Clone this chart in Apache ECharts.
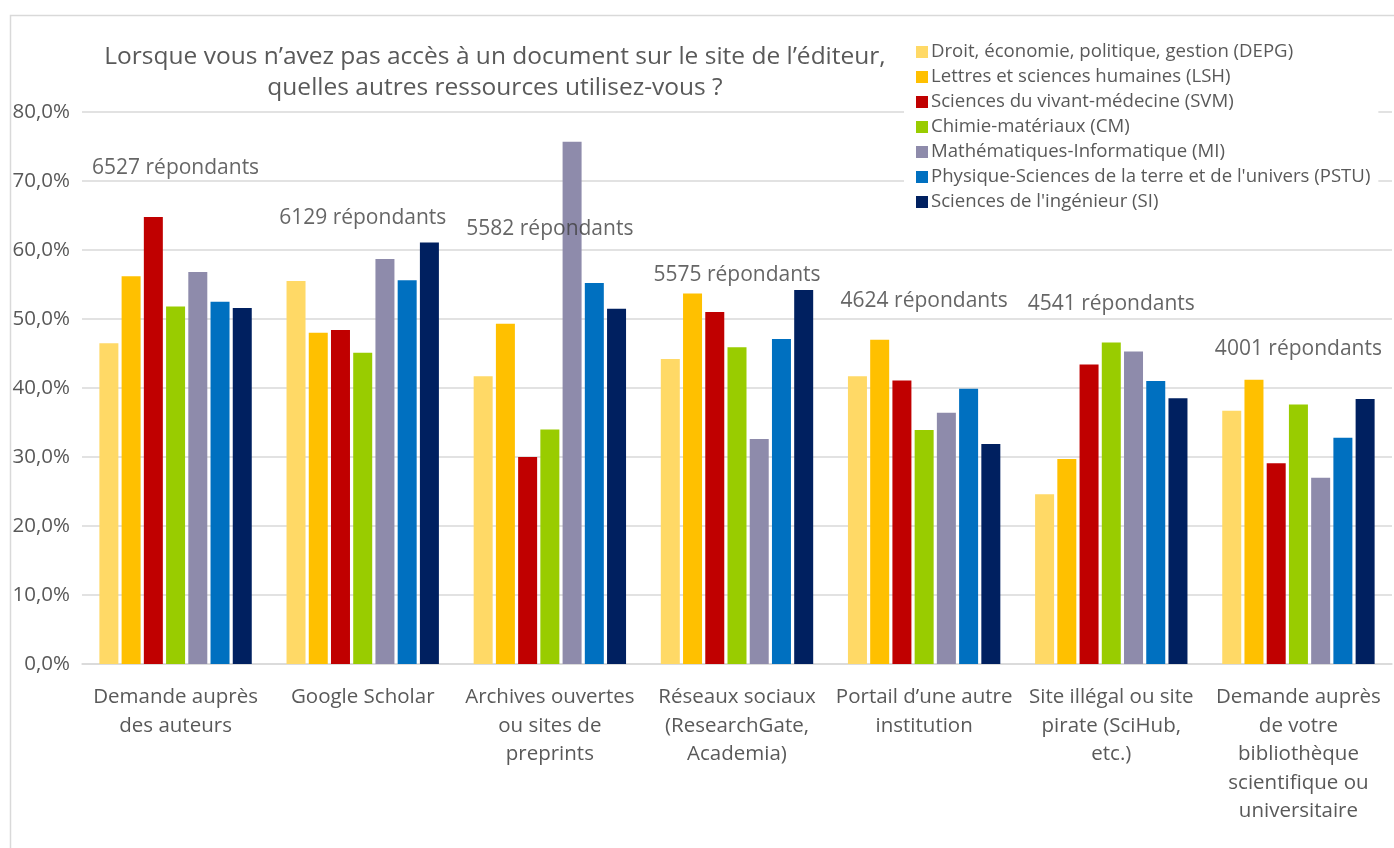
<!DOCTYPE html>
<html>
<head>
<meta charset="utf-8">
<script src="https://cdn.jsdelivr.net/npm/echarts@6/dist/echarts.min.js"></script>
<style>
html,body{margin:0;padding:0;background:#fff;}
#chart{width:1394px;height:848px;}
</style>
</head>
<body>
<div id="chart"></div>
<script>
const categories = [
  "Demande auprès\ndes auteurs",
  "Google Scholar",
  "Archives ouvertes\nou sites de\npreprints",
  "Réseaux sociaux\n(ResearchGate,\nAcademia)",
  "Portail d’une autre\ninstitution",
  "Site illégal ou site\npirate (SciHub,\netc.)",
  "Demande auprès\nde votre\nbibliothèque\nscientifique ou\nuniversitaire"
];
const seriesNames = [
  "Droit, économie, politique, gestion (DEPG)",
  "Lettres et sciences humaines (LSH)",
  "Sciences du vivant-médecine (SVM)",
  "Chimie-matériaux (CM)",
  "Mathématiques-Informatique (MI)",
  "Physique-Sciences de la terre et de l'univers (PSTU)",
  "Sciences de l'ingénieur (SI)"
];
const DEPG = [46.5, 55.5, 41.7, 44.2, 41.7, 24.6, 36.7];
const LSH  = [56.2, 48.0, 49.3, 53.7, 47.0, 29.7, 41.2];
const SVM  = [64.8, 48.4, 30.0, 51.0, 41.1, 43.4, 29.1];
const CM   = [51.8, 45.1, 34.0, 45.9, 33.9, 46.6, 37.6];
const MI   = [56.8, 58.7, 75.7, 32.6, 36.4, 45.3, 27.0];
const PSTU = [52.5, 55.6, 55.2, 47.1, 39.9, 41.0, 32.8];
const SI   = [51.6, 61.1, 51.5, 54.2, 31.9, 38.5, 38.4];
const respondents = [6527, 6129, 5582, 5575, 4624, 4541, 4001];
const respondentLabelLevel = [71.9, 64.6, 63.1, 56.4, 52.6, 52.2, 45.7];
const yTicks = { min: 0, max: 80, interval: 10 };

const colors = ["#FFD966", "#FFC000", "#C00000", "#99CC00", "#8E8BAB", "#0070C0", "#002060"];
const values = [DEPG, LSH, SVM, CM, MI, PSTU, SI];
const FONT = "Open Sans";

const chart = echarts.init(document.getElementById('chart'), null, {renderer: 'canvas'});

const barSeries = seriesNames.map((name, i) => ({
  name: name,
  type: 'bar',
  data: values[i],
  barWidth: 19,
  barGap: '17%',
  itemStyle: { color: colors[i] },
  silent: true
}));

const labelSeries = {
  name: 'respondants',
  type: 'scatter',
  symbolSize: 0,
  silent: true,
  z: 10,
  data: respondentLabelLevel.map((v, i) => [i, v]),
  label: {
    show: true,
    position: 'inside',
    formatter: p => respondents[p.dataIndex] + ' répondants',
    fontFamily: FONT,
    fontSize: 21,
    color: '#404040'
  }
};

chart.setOption({
  animation: false,
  backgroundColor: '#fff',
  color: colors,
  textStyle: { fontFamily: FONT },
  graphic: [{
    type: 'rect',
    left: 8, top: 13,
    shape: { width: 1420, height: 900 },
    style: { fill: 'none', stroke: '#d9d9d9', lineWidth: 1.5 },
    z: -1
  }],
  title: {
    text: 'Lorsque vous n’avez pas accès à un document sur le site de l’éditeur,\nquelles autres ressources utilisez-vous ?',
    left: 490,
    textAlign: 'center',
    top: 37,
    textStyle: { fontFamily: FONT, fontSize: 24.5, lineHeight: 31, fontWeight: 'normal', color: '#595959' }
  },
  legend: {
    orient: 'vertical',
    left: 904,
    top: 36,
    data: seriesNames,
    icon: 'rect',
    itemWidth: 12,
    itemHeight: 12,
    itemGap: 5,
    backgroundColor: '#fff',
    padding: [6, 8, 6, 12],
    z: 5,
    textStyle: { fontFamily: FONT, fontSize: 18.6, lineHeight: 20, color: '#595959', padding: [0, 0, 0, -2] }
  },
  grid: { left: 82, right: 2, top: 112, bottom: 184, containLabel: false },
  xAxis: {
    type: 'category',
    data: categories,
    axisTick: { show: false },
    axisLine: { lineStyle: { color: '#d9d9d9', width: 1.5 } },
    axisLabel: {
      interval: 0,
      fontFamily: FONT,
      fontSize: 20.5,
      lineHeight: 28.5,
      color: '#595959',
      margin: 19,
      align: 'center'
    }
  },
  yAxis: {
    type: 'value',
    min: yTicks.min,
    max: yTicks.max,
    interval: yTicks.interval,
    axisLine: { show: false },
    axisTick: { show: false },
    splitLine: { lineStyle: { color: '#d9d9d9', width: 1.5 } },
    axisLabel: {
      fontFamily: FONT,
      fontSize: 20.5,
      color: '#595959',
      margin: 12,
      formatter: v => v.toFixed(1).replace('.', ',') + '%'
    }
  },
  series: [...barSeries, labelSeries]
});
</script>
</body>
</html>
